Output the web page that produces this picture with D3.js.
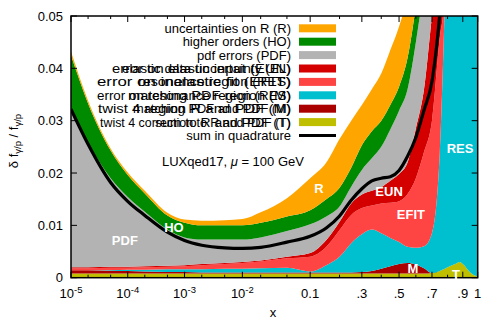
<!DOCTYPE html>
<html>
<head>
<meta charset="utf-8">
<script src="https://cdnjs.cloudflare.com/ajax/libs/d3/7.8.5/d3.min.js"></script>
<style>
body { margin: 0; background: #fff; }
text { font-family: "Liberation Sans", Arial, Helvetica, sans-serif; }
</style>
</head>
<body>
<script>
// x grid and the stacked contributions (thickness of each band)
var xs   = [1e-5, 2e-5, 5e-5, 1e-4, 2e-4, 5e-4, 1e-3, 2e-3, 5e-3, 0.01, 0.02, 0.05, 0.1, 0.15, 0.2, 0.25, 0.3, 0.35, 0.4, 0.45, 0.5, 0.55, 0.6, 0.65, 0.7, 0.75, 0.775, 0.8, 0.85, 0.88, 0.9, 0.95, 0.98, 1];
var T    = [.0008,.0008,.0008,.0008,.0008,.0008,.0008,.0008,.0008,.0008,.0008,.0008,.0008,.0008,.0008,.0008,.0008,.0008,.0008,.0008,.0008,.0008,.0008,.0008,.0009,.0013,.0016,.0020,.0026,.0030,.0026,.0010,.0004,.0002];
var M    = [.0006,.0006,.0005,.0005,.0004,.0003,.0003,.0002,.0002,.0002,.0002,.0002,.0002,.0002,.0002,.0002,.0003,.0005,.0009,.0014,.0018,.0020,.0017,.0010,0,0,0,0,0,0,0,0,0,0];
var RES  = [0,0,.0001,.0002,.0003,.0005,.0005,.0006,.0007,.0007,.0008,.0009,.0002,.0014,.0030,.0056,.0072,.0079,.0068,.0054,.0042,.0031,.0032,.0042,.0076,.0227,.0434,.0680,.0800,.0800,.0800,.0800,.0800,.0800];
var EFIT = [.0004,.0004,.0005,.0004,.0005,.0005,.0006,.0008,.0009,.0011,.0013,.0018,.0028,.0035,.0051,.0054,.0050,.0046,.0057,.0067,.0078,.0101,.0133,.0180,.0215,.0220,.0070,.0050,.005,.005,.005,.005,.005,.005];
var EUN  = [.0002,.0002,.0002,.0002,.0002,.0002,.0002,.0002,.0002,.0002,.0002,.0003,.0007,.0013,.0016,.0022,.0026,.0028,.0031,.0042,.0052,.0060,.0095,.0120,.0200,.0160,.0140,.0100,.005,.005,.005,.005,.005,.005];
var PDF  = [.0300,.0238,.0169,.0133,.0104,.0069,.0053,.0047,.0045,.0043,.0044,.0049,.0055,.0045,.0029,.0032,.0047,.0062,.0077,.0098,.0121,.0140,.0165,.0200,.0200,.0180,.0150,.0100,.005,.005,.005,.005,.005,.005];
var HO   = [.0105,.0075,.0053,.0042,.0035,.0027,.0028,.0027,.0027,.0027,.0028,.0028,.0027,.0033,.0036,.0036,.0047,.0052,.0050,.0047,.0046,.0060,.0070,.0090,.0100,.0100,.0100,.0100,.005,.005,.005,.005,.005,.005];
var R    = [.0007,.0005,.0004,.0005,.0005,.0005,.0006,.0009,.0010,.0012,.0020,.0035,.0061,.0070,.0093,.0090,.0077,.0080,.0090,.0105,.0115,.0120,.0130,.0150,.0150,.0100,.0100,.0100,.005,.005,.005,.005,.005,.005];

// sum in quadrature
var sumX = [1e-5, 2e-5, 5e-5, 1e-4, 2e-4, 5e-4, 1e-3, 2e-3, 5e-3, 0.01, 0.02, 0.05, 0.1, 0.15, 0.2, 0.25, 0.3, 0.35, 0.4, 0.45, 0.5, 0.55, 0.6, 0.65, 0.7, 0.75, 0.775];
var sumY = [.0322,.0255,.0182,.0146,.0119,.0087,.0071,.0062,.0057,.0056,.0058,.0068,.0079,.0095,.0118,.0148,.0170,.0185,.0190,.0193,.0205,.0232,.0268,.0320,.0375,.0505,.0600];

var keys    = ['T', 'M', 'RES', 'EFIT', 'EUN', 'PDF', 'HO', 'R'];
var colors  = {T: '#bfbf00', M: '#aa0000', RES: '#00bfcf', EFIT: '#ff4444', EUN: '#d40000', PDF: '#b3b3b3', HO: '#008a00', R: '#ffa500'};
var series  = {T: T, M: M, RES: RES, EFIT: EFIT, EUN: EUN, PDF: PDF, HO: HO, R: R};

var majorX = [1e-5, 1e-4, 1e-3, 1e-2, 0.1, 0.3, 0.5, 0.7, 0.9, 1];
var minorX = [2e-5, 5e-5, 2e-4, 5e-4, 2e-3, 5e-3, 0.02, 0.05, 0.2, 0.4, 0.6, 0.8];
var xLabels = [[1e-5, '-5'], [1e-4, '-4'], [1e-3, '-3'], [1e-2, '-2'], [0.1, '0.1'], [0.3, '.3'], [0.5, '.5'], [0.7, '.7'], [0.9, '.9'], [1, '1']];
var yTicks = [0, 0.01, 0.02, 0.03, 0.04, 0.05];

var legendRows = [
  {key: 'R', texts: ['uncertainties on R (R)']},
  {key: 'HO', texts: ['higher orders (HO)']},
  {key: 'PDF', texts: ['pdf errors (PDF)']},
  {key: 'EUN', texts: ['error on elastic input (EUN)', 'elastic data uncertainty (EL)'], widths: [179, 169]},
  {key: 'EFIT', texts: ['error on inelastic fit (EFIT)', 'resonance region (RES)'], widths: [194, 153]},
  {key: 'RES', texts: ['error on resonance region (RES)', 'matching PDF region (M)'], widths: [194, 163]},
  {key: 'M', texts: ['twist 4 region R and PDF (M)', 'matching PDF and PDF (M)'], widths: [193, 158]},
  {key: 'T', texts: ['twist 4 correction to R and PDF (T)', 'sum to R and PDF (T)'], widths: [191, 136]},
  {key: 'sum', texts: ['sum in quadrature']}
];

var bandLabels = [
  {t: 'PDF', x: 8.9e-5, y: 0.0062},
  {t: 'HO', x: 6.5e-4, y: 0.0087},
  {t: 'R', x: 0.126, y: 0.0161},
  {t: 'EUN', x: 0.443, y: 0.0156},
  {t: 'EFIT', x: 0.57, y: 0.0113},
  {t: 'RES', x: 0.882, y: 0.0238},
  {t: 'M', x: 0.582, y: 0.0009},
  {t: 'T', x: 0.855, y: -0.00025}
];

var width = 498, height = 320;
var pl = 71, pr = 477.7, pt = 16, pb = 277.7;

var xt = function(v) { return Math.log(v) + 5 * v; };
var x = d3.scaleLinear().domain([xt(1e-5), xt(1)]).range([pl, pr]);
var px = function(v) { return x(xt(v)); };
var y = d3.scaleLinear().domain([0, 0.05]).range([pb, pt]);

var svg = d3.select('body').append('svg')
            .attr('width', width)
            .attr('height', height);

svg.append('clipPath').attr('id', 'plot')
   .append('rect')
     .attr('x', pl).attr('y', pt)
     .attr('width', pr - pl).attr('height', pb - pt);

var rows = xs.map(function(v, i) {
  var r = {x: v};
  keys.forEach(function(k) { r[k] = series[k][i]; });
  return r;
});
var stacked = d3.stack().keys(keys)(rows);

var area = d3.area()
             .x(d => px(d.data.x))
             .y0(d => y(d[0]))
             .y1(d => y(d[1]))
             .curve(d3.curveMonotoneX);

var g = svg.append('g').attr('clip-path', 'url(#plot)');
g.selectAll('path.band').data(stacked)
  .enter().append('path')
    .attr('class', 'band')
    .attr('fill', d => colors[d.key])
    .attr('d', area);

var line = d3.line()
             .x((d, i) => px(sumX[i]))
             .y(d => y(d))
             .curve(d3.curveMonotoneX);
g.append('path')
  .attr('d', line(sumY))
  .attr('fill', 'none')
  .attr('stroke', '#000')
  .attr('stroke-width', 3.2);

// ticks (inside, mirrored)
var tickG = svg.append('g').attr('stroke', '#000').attr('stroke-width', 1);
function xTick(v, len) {
  tickG.append('line').attr('x1', px(v)).attr('x2', px(v)).attr('y1', pb).attr('y2', pb - len);
  tickG.append('line').attr('x1', px(v)).attr('x2', px(v)).attr('y1', pt).attr('y2', pt + len);
}
majorX.forEach(v => xTick(v, 6));
minorX.forEach(v => xTick(v, 3));
yTicks.forEach(function(v) {
  tickG.append('line').attr('x1', pl).attr('x2', pl + 6).attr('y1', y(v)).attr('y2', y(v));
  tickG.append('line').attr('x1', pr).attr('x2', pr - 6).attr('y1', y(v)).attr('y2', y(v));
});

svg.append('rect')
   .attr('x', pl).attr('y', pt)
   .attr('width', pr - pl).attr('height', pb - pt)
   .attr('fill', 'none').attr('stroke', '#000').attr('stroke-width', 1.5);

// labels inside bands
svg.selectAll('text.band').data(bandLabels)
  .enter().append('text')
    .attr('class', 'band')
    .attr('x', d => px(d.x))
    .attr('y', d => y(d.y))
    .attr('text-anchor', 'middle')
    .attr('fill', '#fff')
    .attr('font-weight', 'bold')
    .attr('font-size', 13)
    .text(d => d.t);

// y tick labels
svg.selectAll('text.ylab').data(yTicks)
  .enter().append('text')
    .attr('x', 63)
    .attr('y', d => y(d) + 4.5)
    .attr('text-anchor', 'end')
    .attr('font-size', 13)
    .text(d => d === 0 ? '0' : d3.format('.2f')(d));

// x tick labels
xLabels.forEach(function(l) {
  var t = svg.append('text')
             .attr('x', px(l[0]))
             .attr('y', 297.5)
             .attr('text-anchor', 'middle')
             .attr('font-size', 13);
  if (l[0] < 0.05) {
    t.append('tspan').text('10');
    t.append('tspan').attr('dy', -5).attr('font-size', 9.5).text(l[1]);
  } else {
    t.text(l[1]);
  }
});

svg.append('text')
   .attr('x', 273).attr('y', 317)
   .attr('text-anchor', 'middle')
   .attr('font-size', 13)
   .text('x');

var yl = svg.append('text')
            .attr('transform', 'translate(18,141) rotate(-90)')
            .attr('text-anchor', 'middle')
            .attr('font-size', 13);
yl.append('tspan').text('δ f');
yl.append('tspan').attr('dy', 3).attr('font-size', 9.5).text('γ/p');
yl.append('tspan').attr('dy', -3).text(' / f');
yl.append('tspan').attr('dy', 3).attr('font-size', 9.5).text('γ/p');

// legend
var legend = svg.append('g');
legendRows.forEach(function(r, i) {
  var cy = 28.3 + i * 13.4;
  r.texts.forEach(function(s, j) {
    var t = legend.append('text')
                  .attr('x', 291)
                  .attr('y', cy + 4.5)
                  .attr('text-anchor', 'end')
                  .attr('font-size', 13)
                  .text(s);
    if (r.widths) {
      t.attr('x', 291 - r.widths[j])
       .attr('text-anchor', 'start')
       .attr('textLength', r.widths[j])
       .attr('lengthAdjust', 'spacingAndGlyphs');
    }
  });
  if (r.key === 'sum') {
    legend.append('line')
          .attr('x1', 299).attr('x2', 336)
          .attr('y1', cy).attr('y2', cy)
          .attr('stroke', '#000').attr('stroke-width', 3.2);
  } else {
    legend.append('rect')
          .attr('x', 299).attr('y', cy - 4)
          .attr('width', 37).attr('height', 8)
          .attr('fill', colors[r.key]);
  }
});

var ann = svg.append('text')
             .attr('x', 162).attr('y', 165.5)
             .attr('font-size', 13);
ann.append('tspan').text('LUXqed17, ');
ann.append('tspan').attr('font-style', 'italic').text('μ');
ann.append('tspan').text(' = 100 GeV');
</script>
</body>
</html>
